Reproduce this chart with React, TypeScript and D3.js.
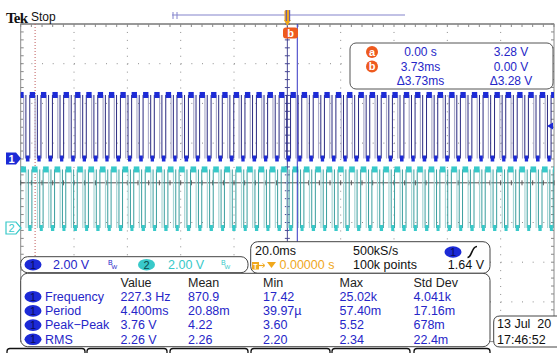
import React from 'react';
import * as d3 from 'd3';

const W = 557;
const H = 353;

// time axis (ms) and data
const timeDomainMs: [number, number] = [-100, 100];
const ch1RiseMs = [
  -100.9, -96.6, -92.4, -88.1, -83.9, -79.6, -75.4, -71.1, -66.9, -62.6, -58.4, -54.1,
  -49.9, -45.6, -41.4, -37.1, -32.9, -28.6, -24.4, -20.1, -15.9, -11.6, -7.4, -3.1,
  1.2, 5.4, 9.7, 13.9, 18.2, 22.4, 26.7, 30.9, 35.2, 39.4, 43.7, 47.9,
  52.2, 56.4, 60.7, 64.9, 69.2, 73.4, 77.7, 81.9, 86.2, 90.4, 94.7, 98.9,
];
const ch1HighWidthMs = 2.0;
const fallSpreadMs = 0.85;
const ch2DelayMs = 0.8;
const ch2HighWidthMs = 2.1;
const ch1LevelsV = [0, 3.2];
const ch2LevelsV = [0, 2.95];
const trigLevelV = 1.64;
const cursorBMs = 3.73;
const cursorDotMs = -94.6;

const cursorTimes = ['0.00 s', '3.73ms', '\u03943.73ms'];
const cursorVolts = ['3.28 V', '0.00 V', '\u03943.28 V'];
const cursorLabels = ['a', 'b', ''];

const measHeaders = ['Value', 'Mean', 'Min', 'Max', 'Std Dev'];
const measLabels = ['Frequency', 'Period', 'Peak\u2212Peak', 'RMS'];
const measValues = [
  ['227.3 Hz', '870.9', '17.42', '25.02k', '4.041k'],
  ['4.400ms', '20.88m', '39.97\u00b5', '57.40m', '17.16m'],
  ['3.76 V', '4.22', '3.60', '5.52', '678m'],
  ['2.26 V', '2.26', '2.20', '2.34', '22.4m'],
];
const chanScales = ['2.00 V', '2.00 V'];
const acqTexts = ['20.0ms', '500kS/s', '0.00000 s', '100k points', '1.64 V'];
const dateTexts = ['13 Jul  20', '17:46:52'];
const tabEdges = [[7, 85], [87, 167], [170, 248], [251, 330], [332, 410], [414, 490]];

const FONT = "'Liberation Sans', Arial, sans-serif";
const BLUE = '#2626c8';
const CH1 = '#1c2ad6';
const CH2 = '#38c9c9';
const ORANGE = '#ee5a1e';

const GX0 = 20.7, GX1 = 554, GY0 = 24, DIVY = 39.7;
const GY1 = GY0 + 8 * DIVY;
const DIVX = (GX1 - GX0) / 10;

function buildTrace(rises: number[], delay: number, width: number) {
  const his: { t0: number; t1: number }[] = [];
  const los: { t0: number; t1: number }[] = [];
  const falls: number[] = [];
  const risesD: number[] = [];
  rises.forEach((r0, i) => {
    const r = r0 + delay;
    const f = r + width;
    if (i === 0) los.push({ t0: timeDomainMs[0] - 10, t1: r });
    his.push({ t0: r, t1: f });
    const next = i + 1 < rises.length ? rises[i + 1] + delay : timeDomainMs[1] + 10;
    los.push({ t0: f + fallSpreadMs, t1: next });
    falls.push(f);
    risesD.push(r);
  });
  return { his, los, falls, risesD };
}

function Trace({ x, y, levels, rises, delay, width, fill, dark, light }: any) {
  const { his, los, falls, risesD } = buildTrace(rises, delay, width);
  const yl = y(levels[0]);
  const yh = y(levels[1]);
  return (
    <g clipPath="url(#grat)">
      {falls.map((f, i) => (
        <g key={'f' + i}>
          <line x1={x(f)} x2={x(f)} y1={yh} y2={yl} stroke={light} strokeWidth={1.2} />
          <line x1={x(f + fallSpreadMs)} x2={x(f + fallSpreadMs)} y1={yh} y2={yl} stroke={dark} strokeWidth={1} />
        </g>
      ))}
      {risesD.map((r, i) => (
        <line key={'r' + i} x1={x(r)} x2={x(r)} y1={yh} y2={yl} stroke={dark} strokeWidth={1} />
      ))}
      {his.map((p, i) => {
        const x0 = x(p.t0);
        const x1 = x(p.t1);
        return <rect key={'h' + i} x={x0} y={yh - 3} width={Math.max(0, x1 - x0)} height={6} fill={fill} />;
      })}
      {los.map((p, i) => {
        const x0 = x(p.t0);
        const x1 = x(p.t1) - 0.3;
        return <rect key={'l' + i} x={x0} y={yl - 3} width={Math.max(0, x1 - x0)} height={6} fill={fill} />;
      })}
    </g>
  );
}

function Pill({ cx, cy, label, fill, color }: any) {
  return (
    <g>
      <ellipse cx={cx} cy={cy} rx={8.5} ry={5.8} fill={fill} />
      <text x={cx} y={cy + 4} textAnchor="middle" fontSize={11} fontFamily={FONT} fill={color}>{label}</text>
    </g>
  );
}

export default function App() {
  const x = d3.scaleLinear().domain(timeDomainMs).range([GX0, GX1]);
  const y1 = d3.scaleLinear().domain([0, 2]).range([158.5, 158.5 - DIVY]);
  const y2 = d3.scaleLinear().domain([0, 2]).range([228, 228 - DIVY]);

  const vGrid = d3.range(1, 10).map((k) => GX0 + k * DIVX);
  const hGrid = d3.range(1, 8).filter((j) => j !== 4).map((j) => GY0 + j * DIVY);
  const xTicks = d3.range(0, 51).map((k) => GX0 + k * (DIVX / 5));
  const yTicks = d3.range(0, 41).map((k) => GY0 + k * (DIVY / 5));
  const cx = x(0);
  const cy = GY0 + 4 * DIVY;

  const colX = [120.5, 188, 263, 339.5, 413.5];
  const rowY = [301, 315.2, 329.4, 343.6];

  return (
    <svg width={W} height={H} style={{ position: 'absolute', left: 0, top: 0, background: '#fff' }} fontFamily={FONT}>
      <defs>
        <clipPath id="grat"><rect x={GX0} y={GY0} width={GX1 - GX0} height={GY1 - GY0} /></clipPath>
      </defs>
      <rect width={W} height={H} fill="#fff" />

      {/* graticule */}
      {vGrid.map((gx, i) => (
        <line key={'vg' + i} x1={gx} x2={gx} y1={GY0} y2={GY1} stroke="#8c8c8c" strokeWidth={1} strokeDasharray={`1 ${DIVY / 5 - 1}`} />
      ))}
      {hGrid.map((gy, i) => (
        <line key={'hg' + i} x1={GX0} x2={GX1} y1={gy} y2={gy} stroke="#8c8c8c" strokeWidth={1} strokeDasharray={`1 ${DIVX / 5 - 1}`} />
      ))}
      <rect x={GX0} y={GY0} width={GX1 - GX0} height={GY1 - GY0} fill="none" stroke="#8a8a8a" strokeWidth={1} />
      <line x1={GX0} x2={GX1} y1={GY0} y2={GY0} stroke="#999" strokeWidth={2} />
      {xTicks.map((tx, i) => (
        <line key={'tt' + i} x1={tx} x2={tx} y1={GY0} y2={GY0 + 3} stroke="#888" />
      ))}
      {yTicks.map((ty, i) => (
        <g key={'lt' + i}>
          <line x1={GX0} x2={GX0 + 3} y1={ty} y2={ty} stroke="#888" />
          <line x1={GX1 - 3} x2={GX1} y1={ty} y2={ty} stroke="#888" />
        </g>
      ))}
      {/* center axes */}
      <line x1={GX0} x2={GX1} y1={cy} y2={cy} stroke="#555" strokeWidth={1} />
      {xTicks.map((tx, i) => (
        <line key={'ct' + i} x1={tx} x2={tx} y1={cy - 2.5} y2={cy + 2.5} stroke="#555" />
      ))}
      <line x1={cx} x2={cx} y1={GY0} y2={GY1} stroke="#4a4a96" strokeWidth={1} />
      {yTicks.map((ty, i) => (
        <line key={'cv' + i} x1={cx - 2.5} x2={cx + 2.5} y1={ty} y2={ty} stroke="#4a4a96" />
      ))}
      {/* dotted cursor */}
      <line x1={x(cursorDotMs)} x2={x(cursorDotMs)} y1={GY0} y2={GY1} stroke="#c05a5a" strokeWidth={1} strokeDasharray="1 2" />

      {/* traces */}
      <Trace x={x} y={y2} levels={ch2LevelsV} rises={ch1RiseMs} delay={ch2DelayMs} width={ch2HighWidthMs} fill={CH2} dark="#3a9e9e" light="#a8d6d6" />
      <Trace x={x} y={y1} levels={ch1LevelsV} rises={ch1RiseMs} delay={0} width={ch1HighWidthMs} fill={CH1} dark="#2a2a80" light="#aeaecb" />

      {/* cursor b line */}
      <line x1={x(cursorBMs)} x2={x(cursorBMs)} y1={GY0} y2={GY1} stroke="#3434c4" strokeWidth={1} />

      {/* channel markers */}
      <path d={`M6,${y1(0) - 6} L16,${y1(0) - 6} L21,${y1(0)} L16,${y1(0) + 6} L6,${y1(0) + 6} Z`} fill={CH1} />
      <text x={11.5} y={y1(0) + 4} textAnchor="middle" fontSize={11} fontWeight="bold" fill="#fff">1</text>
      <path d={`M6,${y2(0) - 6} L16,${y2(0) - 6} L21,${y2(0)} L16,${y2(0) + 6} L6,${y2(0) + 6} Z`} fill="#fff" stroke={CH2} strokeWidth={1.2} />
      <text x={11.5} y={y2(0) + 4} textAnchor="middle" fontSize={11} fill={CH2}>2</text>
      {/* trigger level arrow */}
      <path d={`M${GX1 - 7},${y1(trigLevelV)} L${GX1 - 1},${y1(trigLevelV) - 3.5} L${GX1 - 1},${y1(trigLevelV) + 3.5} Z`} fill={CH1} />

      {/* header */}
      <text x={6} y={22.5} fontFamily="'Liberation Serif', serif" fontWeight="bold" fontSize={15} letterSpacing={-0.8} fill="#111">Tek</text>
      <text x={31} y={20.5} fontSize={12} fill="#111">Stop</text>
      <line x1={172} x2={405} y1={15} y2={15} stroke="#8484cc" strokeWidth={1.2} />
      <line x1={173} x2={173} y1={12} y2={19} stroke="#8484cc" strokeWidth={1} />
      <line x1={177} x2={177} y1={12} y2={19} stroke="#8484cc" strokeWidth={1} />
      <rect x={284.5} y={10} width={5.5} height={11} rx={1.5} fill="#f0a81c" />
      <path d={`M${cx - 3.5},20 L${cx + 3.5},20 L${cx},26 Z`} fill="#f0a81c" />
      <line x1={286.3} x2={286.3} y1={10} y2={21} stroke="#5050c0" />
      <line x1={289.7} x2={289.7} y1={10} y2={21} stroke="#5050c0" />
      <rect x={283} y={27.5} width={15} height={11} rx={3} fill={ORANGE} />
      <text x={290.5} y={36.5} textAnchor="middle" fontSize={11} fontWeight="bold" fill="#fff">b</text>

      {/* cursor readout */}
      <rect x={350} y={43} width={203} height={46} rx={6} fill="#fff" stroke="#555" strokeWidth={1} />
      {cursorTimes.map((t, i) => (
        <g key={'cr' + i}>
          {cursorLabels[i] && (
            <g>
              <circle cx={372} cy={52 + i * 14.5} r={6} fill={ORANGE} />
              <text x={372} y={55.8 + i * 14.5} textAnchor="middle" fontSize={11} fontWeight="bold" fill="#fff">{cursorLabels[i]}</text>
            </g>
          )}
          <text x={420.5} y={56.3 + i * 14.5} textAnchor="middle" fontSize={12} fill={BLUE}>{t}</text>
          <text x={511} y={56.3 + i * 14.5} textAnchor="middle" fontSize={12} fill={BLUE}>{cursorVolts[i]}</text>
        </g>
      ))}

      {/* channel box */}
      <rect x={20.7} y={256.7} width={227.3} height={16} rx={7} fill="#fff" stroke="#444" strokeWidth={1} />
      <Pill cx={33} cy={264.7} label="1" fill={CH1} color="#0c0c58" />
      <text x={53} y={269.2} fontSize={12.5} fill={BLUE}>{chanScales[0]}</text>
      <text x={108} y={265} fontSize={7} fill={BLUE}>B</text>
      <text x={111.5} y={269} fontSize={6} fill={BLUE}>W</text>
      <Pill cx={146.5} cy={264.7} label="2" fill={CH2} color="#0c4848" />
      <text x={168} y={269.2} fontSize={12.5} fill={CH2}>{chanScales[1]}</text>
      <text x={221} y={265} fontSize={7} fill={CH2}>B</text>
      <text x={224.5} y={269} fontSize={6} fill={CH2}>W</text>

      {/* acquisition box */}
      <rect x={250.7} y={241.7} width={239.3} height={31.6} rx={7} fill="#fff" stroke="#444" strokeWidth={1} />
      <text x={255} y={254.5} fontSize={12.5} fill="#111">{acqTexts[0]}</text>
      <text x={353} y={254.5} fontSize={12.5} fill="#111">{acqTexts[1]}</text>
      <rect x={252} y={262} width={7} height={7.5} fill="#f0a81c" />
      <text x={255.5} y={268.6} textAnchor="middle" fontSize={7} fontWeight="bold" fill="#fff">T</text>
      <line x1={259} x2={264} y1={265.5} y2={265.5} stroke="#f0a81c" strokeWidth={1.2} />
      <path d="M262.5,263.5 L265,265.5 L262.5,267.5" fill="none" stroke="#f0a81c" strokeWidth={1} />
      <path d="M267,262 L276,262 L271.5,268 Z" fill="#f0a81c" />
      <text x={279.5} y={269} fontSize={12.5} fill="#f0a81c">{acqTexts[2]}</text>
      <text x={353} y={269} fontSize={12.5} fill="#111">{acqTexts[3]}</text>
      <Pill cx={453} cy={252} label="1" fill={CH1} color="#0c0c58" />
      <path d="M467.5,257.5 C472,257.5 471.5,246.5 477,246.5" fill="none" stroke="#111" strokeWidth={1.6} />
      <text x={484} y={269} textAnchor="end" fontSize={12.5} fill="#111">{acqTexts[4]}</text>

      {/* measurement box */}
      <rect x={20.7} y={273.3} width={469.3} height={73.4} rx={7} fill="#fff" stroke="#444" strokeWidth={1} />
      {measHeaders.map((h, i) => (
        <text key={'mh' + i} x={colX[i]} y={287} fontSize={12.5} fill="#222">{h}</text>
      ))}
      {measLabels.map((lab, r) => (
        <g key={'mr' + r}>
          <Pill cx={33} cy={rowY[r] - 4.3} label="1" fill={CH1} color="#0c0c58" />
          <text x={45} y={rowY[r]} fontSize={12.5} fill={BLUE}>{lab}</text>
          {measValues[r].map((v, c) => (
            <text key={'mv' + c} x={colX[c]} y={rowY[r]} fontSize={12.5} fill={BLUE}>{v}</text>
          ))}
        </g>
      ))}

      {/* date box */}
      <path d="M560,316 L500,316 Q493.7,316 493.7,322 L493.7,341 Q493.7,347 500,347 L560,347" fill="#fff" stroke="#444" strokeWidth={1} />
      <text x={497} y={328} fontSize={12.5} fill="#111" style={{ whiteSpace: 'pre' }}>{dateTexts[0]}</text>
      <text x={497} y={343.5} fontSize={12.5} fill="#111">{dateTexts[1]}</text>

      {/* softkey tabs */}
      {tabEdges.map(([a, b], i) => (
        <path key={'tab' + i} d={`M${a},360 L${a},351.5 Q${a},348.5 ${a + 3},348.5 L${b - 3},348.5 Q${b},348.5 ${b},351.5 L${b},360`} fill="#fff" stroke="#111" strokeWidth={1.3} />
      ))}
    </svg>
  );
}
